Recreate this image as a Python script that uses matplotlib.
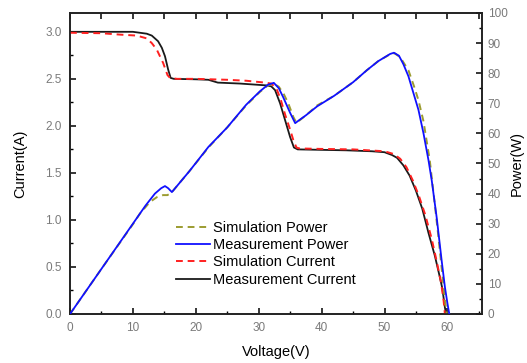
import matplotlib
matplotlib.use("Agg")
import matplotlib.pyplot as plt
from matplotlib.ticker import MultipleLocator

plt.rcParams['font.family'] = ['Liberation Sans', 'DejaVu Sans']

# ---- data ----
v_meas_i = [0, 5, 10, 12.2, 13.0, 14.0, 14.6, 15.1, 15.6, 16.0, 16.5, 20, 22, 23.5, 27, 31.3,
            32.0, 32.6, 33.4, 34.2, 35.0, 35.6, 36.2, 40, 44, 48, 50, 51.2, 52, 53, 54, 55,
            56, 57, 58, 58.7, 59.2, 59.6, 59.8]
i_meas = [3.0, 3.0, 3.0, 2.98, 2.96, 2.9, 2.83, 2.74, 2.6, 2.51, 2.5, 2.495, 2.49, 2.46, 2.45, 2.43,
          2.42, 2.38, 2.24, 2.06, 1.88, 1.77, 1.75, 1.745, 1.74, 1.73, 1.72, 1.69, 1.66, 1.58, 1.47, 1.31,
          1.12, 0.86, 0.62, 0.42, 0.27, 0.07, 0.0]

v_sim_i = [0, 5, 8, 10.6, 12.2, 13.0, 13.8, 14.8, 15.5, 15.9, 17, 20, 25, 28, 31, 32, 32.8, 33.5,
           34.2, 35.0, 35.5, 36.0, 36.5, 40, 45, 50, 51.5, 52.5, 53.5, 54.5, 55.5, 56.5, 57.5,
           58.3, 59.0, 59.4, 59.6]
i_sim = [2.99, 2.985, 2.97, 2.96, 2.93, 2.88, 2.81, 2.67, 2.54, 2.51, 2.5, 2.5, 2.49, 2.48, 2.46, 2.45,
         2.4, 2.28, 2.12, 1.96, 1.85, 1.77, 1.76, 1.755, 1.75, 1.73, 1.7, 1.65, 1.56, 1.42, 1.25, 1.05,
         0.8, 0.56, 0.33, 0.14, 0.0]

v_meas_p = [0, 5, 10, 12, 13.5, 14.5, 15.1, 15.6, 16.2, 17, 19, 22, 25, 28, 30.2, 31.5, 32.4,
            33.2, 33.9, 35.0, 35.8, 36.5, 37.5, 39.3, 42, 45, 47.2, 49, 50.9, 51.5, 52.3, 53,
            53.8, 54.6, 55.4, 56.2, 57.0, 57.5, 58.3, 59.1, 59.6, 60.0, 60.3]
p_meas = [0, 15, 30, 36, 40, 41.8, 42.5, 41.8, 40.5, 42.5, 47.5, 55.5, 62, 69.5, 74, 76.2, 76.8,
          75, 72, 66.8, 63.4, 64.5, 66, 69, 72.5, 77, 81, 84, 86.4, 86.8, 85.8, 83,
          79, 73.4, 67.8, 60, 51, 44.5, 32, 17.5, 9, 3.6, 0]

v_sim_p = [0, 5, 10, 11.1, 12.7, 13.8, 14.8, 15.5, 16.2, 17, 19, 22, 25, 28, 30.2, 31.5, 32.4,
           33.2, 34.0, 34.7, 35.5, 36.0, 36.6, 37.5, 39.3, 42, 45, 47.2, 49, 50.9, 51.6, 52.5,
           53.8, 54.3, 54.8, 55.4, 56.2, 56.7, 57.2, 57.8, 58.5, 59.1, 59.6, 59.9]
p_sim = [0, 15, 29.8, 33.3, 37.2, 38.8, 39.5, 39.5, 40.5, 42.5, 47.5, 55.3, 62, 69.3, 73.8, 76, 76.5,
         75.5, 73, 70, 65.5, 63.5, 64.5, 66, 69.3, 72.5, 77, 81, 84, 86.3, 86.6, 85.3,
         81, 78, 75, 71, 64, 57.5, 51, 40, 27, 15, 5, 0]

labels = ["Simulation Power", "Measurement Power", "Simulation Current", "Measurement Current"]

# ---- figure ----
fig = plt.figure(figsize=(5.27, 3.63), dpi=100)
ax = fig.add_axes([70/527, 1 - 314/363, 412/527, 301/363])
ax2 = ax.twinx()

l3, = ax.plot(v_sim_i, i_sim, color='#ff2020', lw=1.4, dashes=(3.5, 2.5), zorder=3)
l4, = ax.plot(v_meas_i, i_meas, color='#1a1a1a', lw=1.3, zorder=2)
l1, = ax2.plot(v_sim_p, p_sim, color='#9c9c30', lw=1.4, dashes=(3.5, 2.5), zorder=2)
l2, = ax2.plot(v_meas_p, p_meas, color='#1010ff', lw=1.3, zorder=3)

ax.set_xlim(0, 65.5)
ax.set_ylim(0, 3.2)
ax2.set_ylim(0, 100)

ax.xaxis.set_major_locator(MultipleLocator(10))
ax.xaxis.set_minor_locator(MultipleLocator(5))
ax.yaxis.set_major_locator(MultipleLocator(0.5))
ax.yaxis.set_minor_locator(MultipleLocator(0.25))
ax2.yaxis.set_major_locator(MultipleLocator(10))
ax2.yaxis.set_minor_locator(MultipleLocator(5))
ax.yaxis.set_major_formatter(plt.FormatStrFormatter('%.1f'))

tick_col = '#7a7a7a'
ax.tick_params(axis='x', which='major', pad=6)
ax.tick_params(axis='y', which='major', pad=6)
ax.tick_params(axis='both', which='major', direction='in', length=4.5, width=1.1,
               labelsize=8.5, labelcolor=tick_col, right=False, top=False)
ax.tick_params(axis='both', which='minor', direction='in', length=2.5, width=1.0,
               right=False, top=False)
ax2.tick_params(axis='y', which='major', direction='in', length=4.5, width=1.1,
                labelsize=8.5, labelcolor=tick_col, pad=4)
ax2.tick_params(axis='y', which='minor', direction='in', length=2.5, width=1.0)

top = ax.secondary_xaxis('top')
top.xaxis.set_major_locator(MultipleLocator(5))
top.tick_params(direction='in', length=4.5, width=1.1, labeltop=False)
top.spines['top'].set_visible(False)

for a in (ax, ax2):
    for s in a.spines.values():
        s.set_linewidth(1.2)
        s.set_color('#222222')

ax.set_xlabel("Voltage(V)", fontsize=10.5, labelpad=8)
ax.set_ylabel("Current(A)", fontsize=10.5, labelpad=13)
ax2.set_ylabel("Power(W)", fontsize=10.5, labelpad=2)

leg = ax2.legend([l1, l2, l3, l4], labels, loc='upper left',
                 bbox_to_anchor=(176/527, 1 - 221/363), bbox_transform=fig.transFigure,
                 frameon=False, fontsize=10.5, handlelength=2.3, handletextpad=0.25,
                 labelspacing=0.22, borderpad=0, borderaxespad=0)

fig.savefig("out.png", dpi=100)
